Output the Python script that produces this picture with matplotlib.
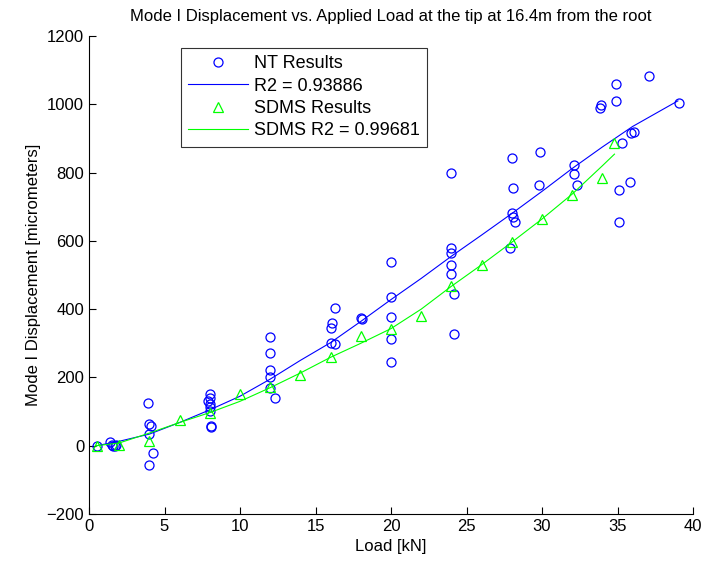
import numpy as np
import matplotlib.pyplot as plt

plt.rcParams['font.family'] = ['Liberation Sans', 'DejaVu Sans']

# NT measurements (load kN, displacement micrometers)
nt_load = [0.5, 1.4, 1.5, 1.6, 1.7, 1.8,
           3.9, 4.0, 4.1, 4.0, 4.25, 4.0,
           8.0, 8.0, 7.9, 8.0, 8.0, 8.0, 8.05, 8.1,
           12.0, 12.0, 12.0, 12.0, 12.0, 12.3,
           16.3, 16.1, 16.0, 16.0, 16.3,
           18.0, 18.05,
           20.0, 20.0, 20.0, 20.0, 20.0,
           24.0, 24.0, 24.0, 24.0, 24.0, 24.2, 24.2,
           27.9, 28.0, 28.1, 28.0, 28.05, 28.2,
           29.9, 29.8,
           32.1, 32.15, 32.3,
           33.9, 33.85, 34.9, 34.9, 35.3, 35.1, 35.1,
           36.1, 35.9, 35.8,
           37.1, 39.1]
nt_disp = [0, 12, 2, -2, 0, 2,
           125, 64, 58, 35, -20, -57,
           151, 141, 131, 122, 112, 102, 58, 56,
           319, 271, 221, 201, 170, 139,
           402, 359, 346, 300, 298,
           373, 370,
           539, 437, 378, 314, 244,
           798, 578, 564, 529, 503, 444, 327,
           580, 844, 756, 683, 671, 654,
           859, 763,
           822, 795, 763,
           997, 988, 1060, 1010, 888, 750, 654,
           920, 915, 771,
           1083, 1005]

# SDMS results
sdms_load = [0.5, 2, 4, 6, 8, 10, 12, 14, 16, 18, 20, 22, 24, 26, 28, 30, 32, 34, 34.8]
sdms_disp = [0, 3, 15, 76, 97, 152, 173, 207, 259, 320, 341, 379, 468, 528, 598, 664, 735, 784, 887]

# fitted curves
nt_fit_x = [0.5, 2, 4, 6, 8, 10, 12, 14, 16, 18, 20, 22, 24, 26, 28, 30, 32, 34, 36, 39]
nt_fit_y = [0, 13, 34, 68, 105, 145, 195, 250, 302, 364, 428, 490, 555, 617, 680, 745, 812, 875, 935, 1010]
sdms_fit_x = [0.5, 2, 4, 6, 8, 10, 12, 14, 16, 18, 20, 22, 24, 26, 28, 30, 32, 34, 34.8]
sdms_fit_y = [0, 8, 37, 68, 97, 130, 170, 213, 259, 300, 343, 400, 467, 530, 596, 664, 737, 820, 854]

fig = plt.figure(figsize=(7.05, 5.68), dpi=100)
ax = fig.add_axes([89/705, 54/568, 604/705, 478/568])

ax.plot(nt_load, nt_disp, 'o', mfc='none', mec='b', ms=6.5, mew=0.9, label='NT Results')
ax.plot(nt_fit_x, nt_fit_y, '-', color='b', lw=0.8, label='R2 = 0.93886')
ax.plot(sdms_load, sdms_disp, '^', mfc='none', mec='#00ff00', ms=7, mew=0.9, label='SDMS Results')
ax.plot(sdms_fit_x, sdms_fit_y, '-', color='#00ff00', lw=0.8, label='SDMS R2 = 0.99681')

ax.set_xlim(0, 40)
ax.set_ylim(-200, 1200)
ax.set_xticks(np.arange(0, 41, 5))
ax.set_yticks(np.arange(-200, 1201, 200))
ax.tick_params(direction='in', length=5, labelsize=12)
ax.spines['top'].set_visible(False)
ax.spines['right'].set_visible(False)

ax.set_xlabel('Load [kN]', fontsize=12)
ax.set_ylabel('Mode I Displacement [micrometers]', fontsize=12)
ax.set_title('Mode I Displacement vs. Applied Load at the tip at 16.4m from the root',
             fontsize=12, pad=11)

leg = ax.legend(loc='upper left', bbox_to_anchor=(0.152, 0.975), borderaxespad=0,
                fontsize=13, frameon=True, fancybox=False, edgecolor='k',
                handlelength=3.3, handletextpad=0.35, labelspacing=0.3,
                borderpad=0.4)
leg.get_frame().set_linewidth(0.8)

fig.savefig('out.png', dpi=100)
